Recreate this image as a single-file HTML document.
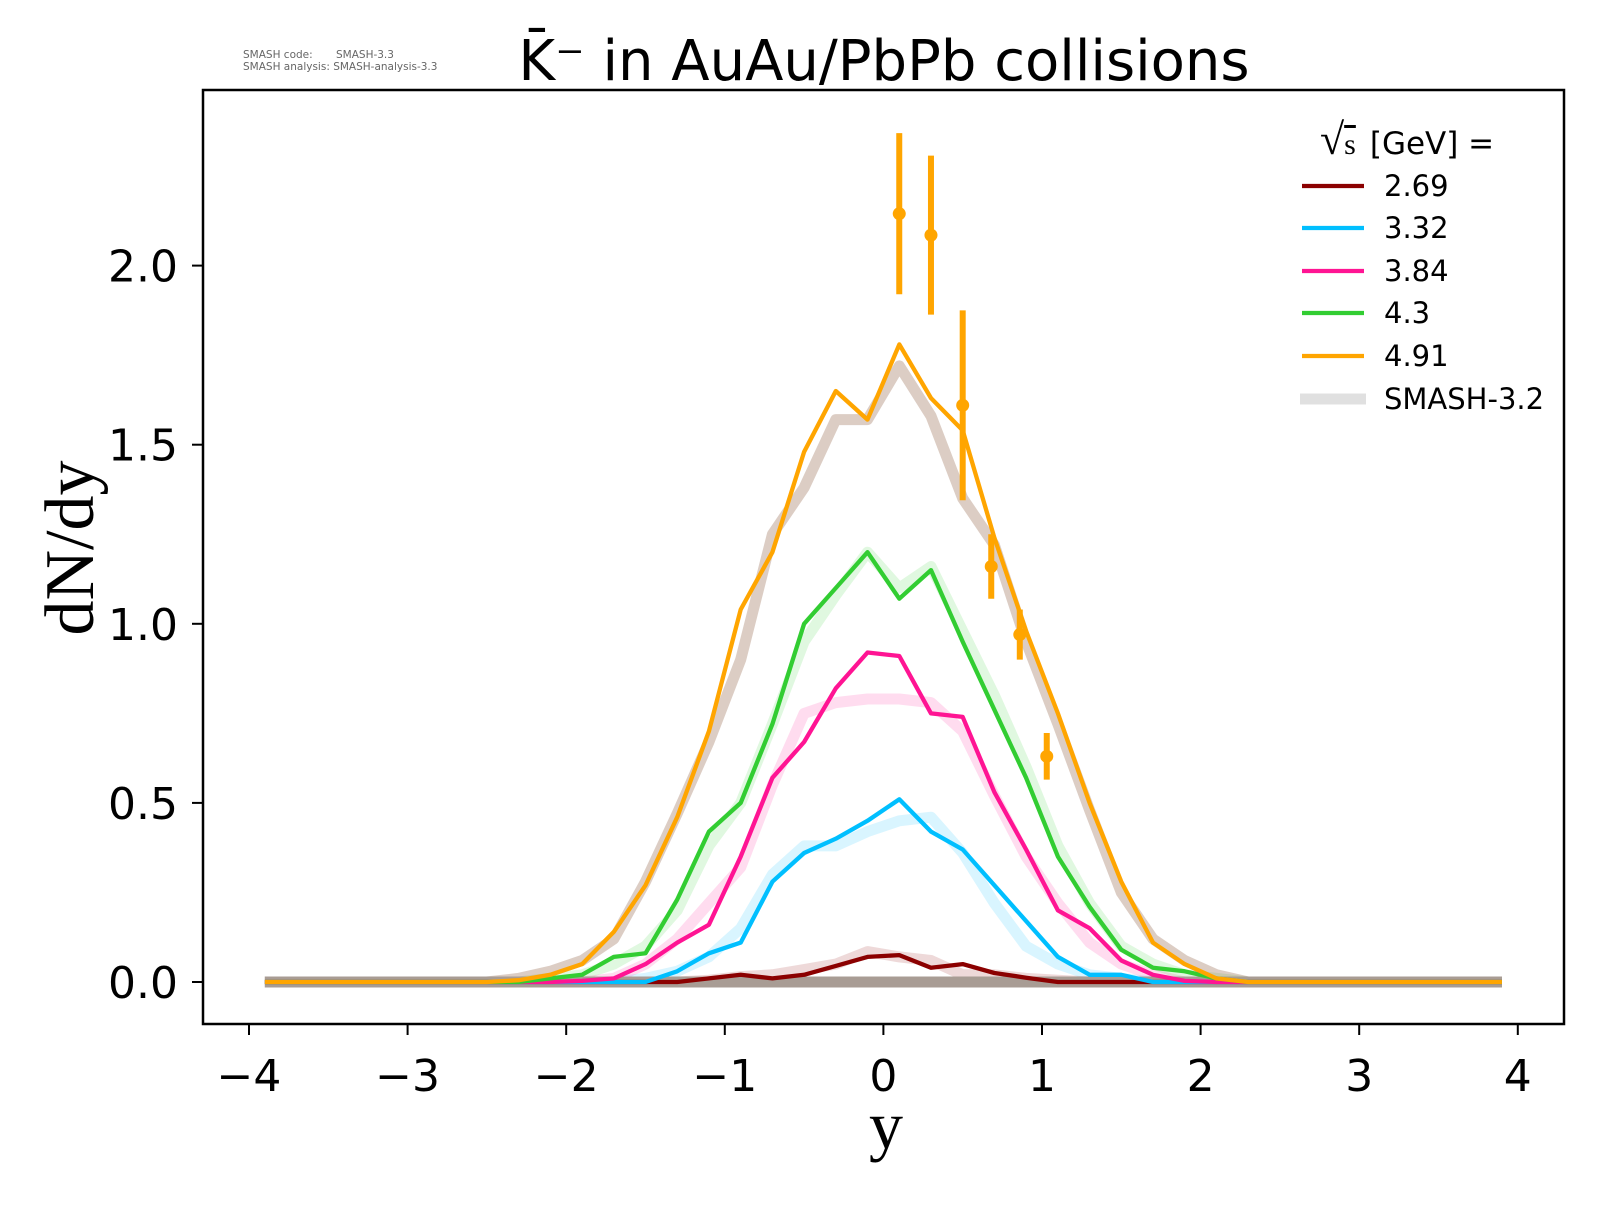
<!DOCTYPE html>
<html><head><meta charset="utf-8"><style>
html,body{margin:0;padding:0;background:#fff;}
svg text{font-family:"DejaVu Sans","Liberation Sans",sans-serif;}
</style></head><body>
<svg id="chart" width="1600" height="1200" viewBox="0 0 1600 1200" xmlns="http://www.w3.org/2000/svg">
<rect width="1600" height="1200" fill="#fff"/>
<text x="243" y="58" font-size="10.5" fill="#666">SMASH code:<tspan x="336">SMASH-3.3</tspan></text>
<text x="243" y="70" font-size="10.5" fill="#666">SMASH analysis: SMASH-analysis-3.3</text>
<text x="884" y="80" font-size="56" text-anchor="middle">K̄⁻ in AuAu/PbPb collisions</text>
<g id="bands"></g>
<g id="lines"></g>
<g id="errs"></g>
<rect x="203" y="90" width="1361" height="934" fill="none" stroke="#000" stroke-width="2.5"/>
<g id="axes"></g>
<text transform="translate(93,548) rotate(-90)" font-size="70" text-anchor="middle" style="font-family:'Liberation Serif',serif">dN/dy</text>
<text x="886" y="1148" font-size="68" text-anchor="middle" style="font-family:'Liberation Serif',serif">y</text>
<g id="legend">
<text x="1320" y="154" font-size="31"><tspan style="font-family:'Liberation Serif',serif" font-size="44">√</tspan><tspan style="font-family:'Liberation Serif',serif" font-size="30" text-decoration="overline">s</tspan><tspan dx="14">[GeV] =</tspan></text>
</g>
</svg>
<script>
const yBins = [-3.9,-3.7,-3.5,-3.3,-3.1,-2.9,-2.7,-2.5,-2.3,-2.1,-1.9,-1.7,-1.5,-1.3,-1.1,-0.9,-0.7,-0.5,-0.3,-0.1,0.1,0.3,0.5,0.7,0.9,1.1,1.3,1.5,1.7,1.9,2.1,2.3,2.5,2.7,2.9,3.1,3.3,3.5,3.7,3.9];
const seriesLabels = ["2.69","3.32","3.84","4.3","4.91"];
const s269 = [0,0,0,0,0,0,0,0,0,0,0,0,0,0,0.01,0.02,0.01,0.02,0.045,0.07,0.075,0.04,0.05,0.025,0.012,0,0,0,0,0,0,0,0,0,0,0,0,0,0,0];
const s332 = [0,0,0,0,0,0,0,0,0,0,0,0,0,0.03,0.08,0.11,0.28,0.36,0.40,0.45,0.51,0.42,0.37,0.27,0.17,0.07,0.02,0.02,0,0,0,0,0,0,0,0,0,0,0,0];
const s384 = [0,0,0,0,0,0,0,0,0,0,0.003,0.01,0.05,0.11,0.16,0.35,0.57,0.67,0.82,0.92,0.91,0.75,0.74,0.53,0.37,0.20,0.15,0.06,0.02,0.003,0,0,0,0,0,0,0,0,0,0];
const s430 = [0,0,0,0,0,0,0,0,0,0.01,0.02,0.07,0.08,0.23,0.42,0.50,0.72,1.00,1.10,1.20,1.07,1.15,0.95,0.76,0.57,0.35,0.21,0.09,0.04,0.03,0.01,0,0,0,0,0,0,0,0,0];
const s491 = [0,0,0,0,0,0,0,0,0.005,0.02,0.05,0.14,0.27,0.46,0.70,1.04,1.20,1.48,1.65,1.57,1.78,1.63,1.54,1.24,0.98,0.75,0.50,0.28,0.11,0.05,0.01,0,0,0,0,0,0,0,0,0];
const r269 = [0,0,0,0,0,0,0,0,0,0,0,0,0,0,0.005,0.015,0.02,0.035,0.05,0.085,0.07,0.06,0.02,0.02,0.01,0.005,0,0,0,0,0,0,0,0,0,0,0,0,0,0];
const r332 = [0,0,0,0,0,0,0,0,0,0,0,0,0.01,0.03,0.07,0.15,0.30,0.38,0.38,0.42,0.45,0.46,0.36,0.22,0.10,0.05,0.02,0.01,0,0,0,0,0,0,0,0,0,0,0,0];
const r384 = [0,0,0,0,0,0,0,0,0,0,0,0.01,0.05,0.12,0.22,0.32,0.55,0.75,0.78,0.79,0.79,0.78,0.70,0.52,0.35,0.22,0.11,0.05,0.02,0,0,0,0,0,0,0,0,0,0,0];
const r430 = [0,0,0,0,0,0,0,0,0,0.01,0.02,0.05,0.10,0.20,0.38,0.50,0.72,0.95,1.08,1.20,1.10,1.16,0.98,0.80,0.60,0.38,0.22,0.10,0.05,0.02,0.01,0,0,0,0,0,0,0,0,0];
const r491 = [0,0,0,0,0,0,0,0,0.01,0.03,0.06,0.12,0.28,0.47,0.67,0.90,1.25,1.38,1.57,1.57,1.72,1.58,1.35,1.22,0.95,0.72,0.48,0.25,0.12,0.06,0.02,0,0,0,0,0,0,0,0,0];
const expY = [0.1,0.3,0.5,0.68,0.86,1.03];
const expVal = [2.145,2.085,1.61,1.16,0.97,0.63];
const expErr = [0.225,0.222,0.265,0.09,0.07,0.065];
const xTicks = [-4,-3,-2,-1,0,1,2,3,4];
const yTicks = [0,0.5,1.0,1.5,2.0];
const yTickLabels = ["0.0","0.5","1.0","1.5","2.0"];

const colors = ["#8b0000","#00bfff","#ff1493","#32cd32","#ffa500"];
const refColors = ["#8b0000","#00bfff","#ff1493","#32cd32","#8b5a3c"];
const refOp = [0.15,0.15,0.15,0.15,0.3];
const X = v => 203 + (v + 4.29) * 158.6;
const Y = v => 982 - v * 358.2;
const NS = "http://www.w3.org/2000/svg";
function mk(tag, attrs, parent){const e=document.createElementNS(NS,tag);for(const k in attrs)e.setAttribute(k,attrs[k]);parent.appendChild(e);return e;}
const series=[s269,s332,s384,s430,s491], refs=[r269,r332,r384,r430,r491];
const pts = arr => arr.map((v,i)=>X(yBins[i]).toFixed(1)+","+Y(v).toFixed(1)).join(" ");
const bands=document.getElementById('bands'), lines=document.getElementById('lines');
refs.forEach((r,k)=>{
  const p=mk('polyline',{points:pts(r),fill:'none',stroke:refColors[k],'stroke-opacity':refOp[k],'stroke-width':11,'stroke-linejoin':'round'},bands);
  
  
});
const zl=mk('polyline',{points:X(-3.9)+","+Y(0)+" "+X(3.9)+","+Y(0),stroke:'#a89c94',fill:'none','stroke-width':11},bands);


series.forEach((s,k)=>{
  const p=mk('polyline',{points:pts(s),fill:'none',stroke:colors[k],'stroke-width':4.3,'stroke-linejoin':'round'},lines);
  
  
});
const errs=document.getElementById('errs');
expY.forEach((x,i)=>{
  const l=mk('line',{x1:X(x),x2:X(x),y1:Y(expVal[i]+expErr[i]),y2:Y(expVal[i]-expErr[i]),stroke:'#ffa500','stroke-width':6},errs);
  
  
  const c=mk('circle',{cx:X(x),cy:Y(expVal[i]),r:6.5,fill:'#ffa500'},errs);
  
  
});
const axes=document.getElementById('axes');
xTicks.forEach(t=>{
  const l=mk('line',{x1:X(t),x2:X(t),y1:1024,y2:1035,stroke:'#000','stroke-width':2},axes);
  
  
  const tx=mk('text',{x:X(t),y:1091,'font-size':44,'text-anchor':'middle'},axes);
  tx.textContent=(t<0?'−':'')+Math.abs(t);
  
  
});
yTicks.forEach((t,i)=>{
  const l=mk('line',{x1:192,x2:203,y1:Y(t),y2:Y(t),stroke:'#000','stroke-width':2},axes);
  
  
  const tx=mk('text',{x:178,y:Y(t)+16,'font-size':44,'text-anchor':'end'},axes);
  tx.textContent=yTickLabels[i];
  
  
});
const legend=document.getElementById('legend');
const legY=[186,228,271,313,356];
seriesLabels.forEach((lab,k)=>{
  const l=mk('line',{x1:1302,x2:1364,y1:legY[k],y2:legY[k],stroke:colors[k],'stroke-width':4.3},legend);
  
  
  const t=mk('text',{x:1384,y:legY[k]+10,'font-size':29},legend);
  t.textContent=lab;
  
  
});
const rl=mk('line',{x1:1300,x2:1366,y1:399,y2:399,stroke:'#e0e0e0','stroke-width':11},legend);


const rt=mk('text',{x:1384,y:409,'font-size':29},legend);
rt.textContent='SMASH-3.2';


</script>
</body></html>
